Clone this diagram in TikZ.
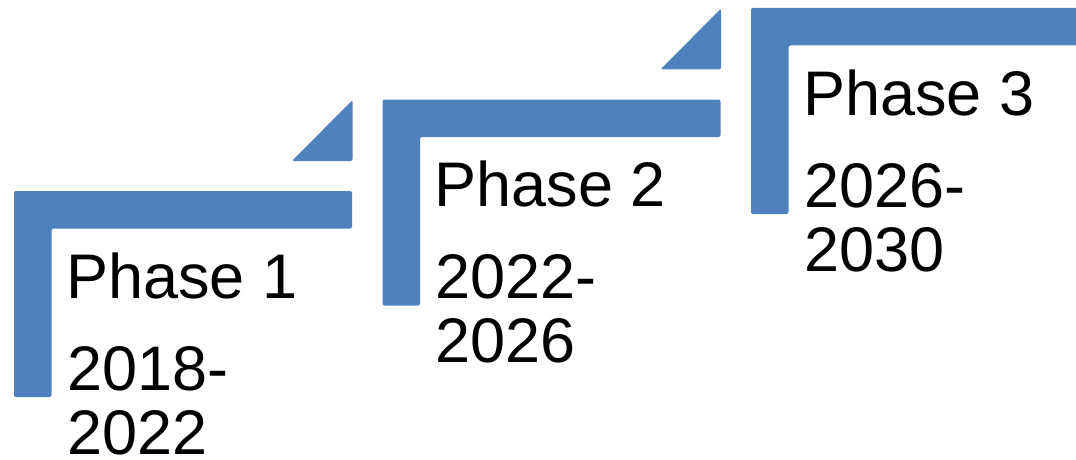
\documentclass[tikz,border=0pt]{standalone}
\usepackage{fontspec}
\setmainfont{Liberation Sans}
\definecolor{phaseblue}{HTML}{4F81BD}
\begin{document}
\begin{tikzpicture}[x=1pt,y=-1pt,
  bar/.style={fill=phaseblue, draw=none, rounded corners=2pt},
  phaselabel/.style={anchor=base west, inner sep=0pt, font=\fontsize{63}{64}\selectfont, align=left, text=black}]
\useasboundingbox (0,0) rectangle (1076,460);
\clip (0,0) rectangle (1076,460);
\foreach \k/\t/\a/\b in {0/1/2018/2022, 1/2/2022/2026, 2/3/2026/2030} {
  \begin{scope}[shift={(368.5*\k,-91.5*\k)}]
    \fill[bar] (14,191) -- (352,191) -- (352,228.5) -- (51.5,228.5) -- (51.5,397) -- (14,397) -- cycle;
    \fill[bar] (292,161) -- (352.5,161) -- (352.5,100) -- cycle;
    \node[phaselabel] (phase\t) at (66,298.3) {Phase \t};
    \node[phaselabel] (years\t) at (67,454) {\a-\\\b};
  \end{scope}
}
\end{tikzpicture}
\end{document}
